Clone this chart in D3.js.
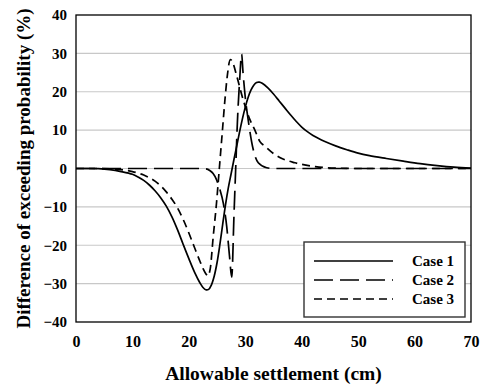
<!DOCTYPE html>
<html>
<head>
<meta charset="utf-8">
<script src="https://cdn.jsdelivr.net/npm/d3@7"></script>
<style>
  html, body { margin: 0; padding: 0; background: #fff; }
  svg { display: block; }
</style>
</head>
<body>
<svg id="chart" width="487" height="385"></svg>
<script>
// ---- data ----
const xTicks = [0, 10, 20, 30, 40, 50, 60, 70];
const yTicks = [-40, -30, -20, -10, 0, 10, 20, 30, 40];
const seriesNames = ["Case 1", "Case 2", "Case 3"];

const case1X = [0, 2, 4, 6, 8, 10, 11, 12, 13, 14, 15, 16, 17, 18, 19, 20, 21, 22, 22.5, 23, 23.5, 24, 24.5, 25, 25.5, 26, 26.5, 27, 27.5, 28, 28.5, 29, 29.5, 30, 30.5, 31, 31.5, 32, 32.5, 33, 34, 35, 36, 37, 38, 39, 40, 41, 42, 43, 44, 46, 48, 50, 52, 55, 58, 61, 64, 67, 70];
const case1Y = [0, 0, -0.05, -0.3, -0.8, -1.5, -2.2, -3.1, -4.3, -5.8, -7.6, -9.8, -12.6, -16, -19.8, -23.5, -27, -29.9, -31, -31.6, -31.5, -30.3, -28, -24.5, -19.8, -14.5, -9.4, -5, -1.3, 2.4, 6, 9.6, 13, 16, 18.5, 20.4, 21.7, 22.4, 22.5, 22.2, 21.0, 19.4, 17.6, 15.8, 14.0, 12.3, 10.8, 9.6, 8.6, 7.8, 7.1, 5.9, 4.9, 4.0, 3.35, 2.6, 1.9, 1.25, 0.75, 0.35, 0.1];

const case2X = [0, 22, 23, 23.7, 24.3, 24.9, 25.5, 26.1, 26.7, 27.2, 27.6, 28.0, 28.3, 28.6, 29.0, 29.35, 29.6, 30.0, 30.5, 31.4, 32.3, 33.8, 35, 70];
const case2Y = [0, 0, -0.1, -0.5, -1.3, -2.9, -5.5, -9, -15, -22.8, -28.3, -12, 0, 12, 23, 29.8, 25, 18.5, 12.8, 5, 1.5, 0.2, 0, 0];

const case3X = [0, 4, 6, 8, 10, 11, 12, 13, 14, 15, 16, 17, 18, 19, 20, 21, 22, 22.5, 23, 23.35, 23.8, 24.3, 24.9, 25.4, 25.9, 26.4, 26.8, 27.35, 27.8, 28.5, 29.6, 30.8, 31.7, 32.6, 33.5, 35, 36.2, 38.8, 42.4, 46, 50, 70];
const case3Y = [0, 0, -0.1, -0.3, -0.8, -1.2, -1.7, -2.4, -3.3, -4.5, -6.1, -8, -10.3, -13.3, -16.8, -20.6, -24.3, -26, -27.4, -28, -26, -18, -9, 0, 9, 18, 24, 28.4, 27.5, 24, 18, 12.8, 10, 7, 5.8, 3.9, 2.8, 1.5, 0.5, 0.1, 0, 0];

// ---- layout ----
const FONT = "'Liberation Serif', 'Times New Roman', Times, 'DejaVu Serif', serif";
const svg = d3.select("#chart");
const mLeft = 76, mRight = 471, mTop = 15, mBottom = 322;
const x = d3.scaleLinear().domain([0, 70]).range([mLeft, mRight]);
const y = d3.scaleLinear().domain([-40, 40]).range([mBottom, mTop]);

const styles = [
  { dash: null, curve: d3.curveCatmullRom.alpha(0.5) },
  { dash: "19,7", curve: d3.curveMonotoneX },
  { dash: "8,5", curve: d3.curveMonotoneX }
];

// grid lines
svg.append("g").selectAll("line")
  .data(yTicks.filter(v => v > -40 && v < 40))
  .join("line")
  .attr("x1", mLeft).attr("x2", mRight)
  .attr("y1", d => y(d)).attr("y2", d => y(d))
  .attr("stroke", "#c8c8c8").attr("stroke-width", 1.2);

// clip
svg.append("defs").append("clipPath").attr("id", "clip")
  .append("rect").attr("x", mLeft).attr("y", mTop).attr("width", mRight - mLeft).attr("height", mBottom - mTop);

const series = [
  d3.zip(case1X, case1Y),
  d3.zip(case2X, case2Y),
  d3.zip(case3X, case3Y)
];

const gLines = svg.append("g").attr("clip-path", "url(#clip)");
series.forEach((s, i) => {
  const line = d3.line().x(d => x(d[0])).y(d => y(d[1])).curve(styles[i].curve);
  gLines.append("path")
    .datum(s)
    .attr("d", line)
    .attr("fill", "none")
    .attr("stroke", "#000")
    .attr("stroke-width", 1.7)
    .attr("stroke-dasharray", styles[i].dash);
});

// axes
const xAxis = d3.axisBottom(x).tickValues(xTicks).tickSize(0).tickPadding(14).tickFormat(d3.format("d"));
const yAxis = d3.axisLeft(y).tickValues(yTicks).tickSize(0).tickPadding(9).tickFormat(d3.format("d"));

const gx = svg.append("g").attr("transform", `translate(0,${mBottom})`).call(xAxis);
gx.attr("font-family", FONT).attr("font-size", 16).attr("font-weight", "bold");
gx.select(".domain").remove();
gx.selectAll("text").attr("fill", "#000");

const gy = svg.append("g").attr("transform", `translate(${mLeft},0)`).call(yAxis);
gy.attr("font-family", FONT).attr("font-size", 15).attr("font-weight", "bold");
gy.select(".domain").remove();
gy.selectAll("text").attr("fill", "#000");

// plot frame
svg.append("rect")
  .attr("x", mLeft).attr("y", mTop).attr("width", mRight - mLeft).attr("height", mBottom - mTop)
  .attr("fill", "none").attr("stroke", "#000").attr("stroke-width", 1.3);

// axis titles
svg.append("text")
  .attr("x", (mLeft + mRight) / 2).attr("y", 380)
  .attr("text-anchor", "middle")
  .attr("font-family", FONT).attr("font-weight", "bold").attr("font-size", 19.5)
  .text("Allowable settlement (cm)");

svg.append("text")
  .attr("transform", `translate(30,${(mTop + mBottom) / 2}) rotate(-90)`)
  .attr("text-anchor", "middle")
  .attr("font-family", FONT).attr("font-weight", "bold").attr("font-size", 19)
  .text("Difference of exceeding probability (%)");

// legend
const lg = svg.append("g");
lg.append("rect")
  .attr("x", 304).attr("y", 242).attr("width", 161).attr("height", 75)
  .attr("fill", "#fff").attr("stroke", "#333").attr("stroke-width", 1.4);
seriesNames.forEach((name, i) => {
  const yy = 261 + i * 19;
  lg.append("line")
    .attr("x1", 314).attr("x2", 393).attr("y1", yy).attr("y2", yy)
    .attr("stroke", "#000").attr("stroke-width", 1.7)
    .attr("stroke-dasharray", styles[i].dash);
  lg.append("text")
    .attr("x", 412).attr("y", yy + 5)
    .attr("font-family", FONT).attr("font-weight", "bold").attr("font-size", 15)
    .text(name);
});
</script>
</body>
</html>
